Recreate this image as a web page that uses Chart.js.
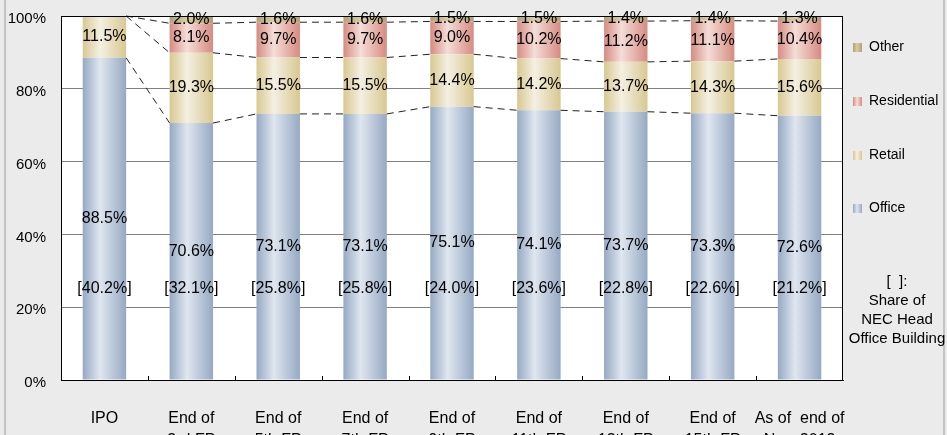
<!DOCTYPE html>
<html>
<head>
<meta charset="utf-8">
<script src="https://cdn.jsdelivr.net/npm/chart.js@4/dist/chart.umd.min.js"></script>
<style>
  html, body { margin: 0; padding: 0; background: #ebebeb; }
  #wrap { width: 947px; height: 435px; position: relative; }
</style>
</head>
<body>
<div id="wrap"><canvas id="mixChart" width="947" height="435"></canvas></div>
<script>
// ---- portfolio mix by use (% of total) ----
const categories = [
    ["IPO"],
    ["End of", "3rd FP"],
    ["End of", "5th FP"],
    ["End of", "7th FP"],
    ["End of", "9th FP"],
    ["End of", "11th FP"],
    ["End of", "13th FP"],
    ["End of", "15th FP"],
    ["As of  end of", "Nov. 2013"]
];
const officeShare      = [88.5, 70.6, 73.1, 73.1, 75.1, 74.1, 73.7, 73.3, 72.6];
const retailShare      = [11.5, 19.3, 15.5, 15.5, 14.4, 14.2, 13.7, 14.3, 15.6];
const residentialShare = [0,     8.1,  9.7,  9.7,  9.0, 10.2, 11.2, 11.1, 10.4];
const otherShare       = [0,     2.0,  1.6,  1.6,  1.5,  1.5,  1.4,  1.4,  1.3];
// share of NEC Head Office Building, shown in brackets
const necHeadShare     = [40.2, 32.1, 25.8, 25.8, 24.0, 23.6, 22.8, 22.6, 21.2];
const necHeadLabelAt = 25;   // y value where the bracket labels sit
const yTicks = [0, 20, 40, 60, 80, 100];

const FONT = "'Liberation Sans', Arial, sans-serif";
const BAR_PCT = 0.5;

// edge / highlight colours for the cylinder-like fill
const palette = {
    office:      ["#96a9c3", "#dfe6ef"],
    retail:      ["#d8c890", "#f4efe2"],
    residential: ["#d68b80", "#f4ddd8"],
    other:       ["#b2a170", "#d8cda6"]
};

function barFill(colors) {
    return (ctx) => {
        const chart = ctx.chart;
        const xs = chart.scales && chart.scales.x;
        if (!chart.chartArea || !xs || ctx.type !== "data") return colors[0];
        const cx = xs.getPixelForValue(ctx.dataIndex);
        const w = xs.width / categories.length * BAR_PCT;
        const g = chart.ctx.createLinearGradient(cx - w / 2, 0, cx + w / 2, 0);
        g.addColorStop(0, colors[0]);
        g.addColorStop(0.4, colors[1]);
        g.addColorStop(1, colors[0]);
        return g;
    };
}

// ---- background + white plot area + frame ----
const framePlugin = {
    id: "frame",
    beforeDraw(chart) {
        const { ctx, chartArea: a, width, height } = chart;
        ctx.save();
        ctx.fillStyle = "#ebebeb";
        ctx.fillRect(0, 0, width, height);
        ctx.fillStyle = "#ffffff";
        ctx.fillRect(a.left, a.top, a.right - a.left, a.bottom - a.top);
        // outer side borders
        ctx.fillStyle = "#c4c4c4";
        ctx.fillRect(4, 0, 2, height);
        ctx.fillRect(943, 0, 2, height);
        ctx.restore();
    },
    afterDraw(chart) {
        const { ctx, chartArea: a } = chart;
        const xs = chart.scales.x;
        ctx.save();
        ctx.strokeStyle = "#000";
        ctx.lineWidth = 1;
        ctx.strokeRect(Math.round(a.left) + 0.5, Math.round(a.top) + 0.5,
                       Math.round(a.right - a.left) - 1, Math.round(a.bottom - a.top));
        // small inward ticks between categories
        ctx.beginPath();
        for (let i = 1; i < categories.length; i++) {
            const x = Math.round(xs.getPixelForValue(i - 0.5)) + 0.5;
            ctx.moveTo(x, a.bottom);
            ctx.lineTo(x, a.bottom - 4);
        }
        ctx.stroke();
        ctx.restore();
    }
};

// ---- dashed series lines joining segment tops ----
const seriesLinesPlugin = {
    id: "seriesLines",
    afterDatasetsDraw(chart) {
        const { ctx } = chart;
        ctx.save();
        ctx.strokeStyle = "#222";
        ctx.lineWidth = 1;
        ctx.setLineDash([7, 5]);
        for (let d = 0; d < 3; d++) {
            const bars = chart.getDatasetMeta(d).data;
            for (let i = 0; i < bars.length - 1; i++) {
                const a = bars[i], b = bars[i + 1];
                ctx.beginPath();
                ctx.moveTo(a.x + a.width / 2, a.y);
                ctx.lineTo(b.x - b.width / 2, b.y);
                ctx.stroke();
            }
        }
        ctx.restore();
    }
};

// ---- value labels inside segments + bracketed NEC share ----
const valueLabelPlugin = {
    id: "valueLabels",
    afterDatasetsDraw(chart) {
        const { ctx } = chart;
        ctx.save();
        ctx.fillStyle = "#000";
        ctx.font = "16px " + FONT;
        ctx.textAlign = "center";
        ctx.textBaseline = "middle";
        chart.data.datasets.forEach((ds, d) => {
            chart.getDatasetMeta(d).data.forEach((bar, i) => {
                const v = ds.data[i];
                if (!v) return;
                ctx.fillText(v.toFixed(1) + "%", bar.x, (bar.y + bar.base) / 2);
            });
        });
        const ys = chart.scales.y;
        const yPix = ys.getPixelForValue(necHeadLabelAt);
        chart.getDatasetMeta(0).data.forEach((bar, i) => {
            ctx.fillText("[" + necHeadShare[i].toFixed(1) + "%]", bar.x, yPix);
        });
        ctx.restore();
    }
};

// ---- legend and bracket note on the right ----
const sideLegendPlugin = {
    id: "sideLegend",
    afterDraw(chart) {
        const { ctx } = chart;
        const items = [
            ["Other", palette.other, 47],
            ["Residential", palette.residential, 101],
            ["Retail", palette.retail, 155],
            ["Office", palette.office, 208]
        ];
        ctx.save();
        ctx.font = "14px " + FONT;
        ctx.textBaseline = "middle";
        ctx.textAlign = "left";
        items.forEach(([name, colors, y]) => {
            const g = ctx.createLinearGradient(853, 0, 862, 0);
            g.addColorStop(0, colors[0]);
            g.addColorStop(0.45, colors[1]);
            g.addColorStop(1, colors[0]);
            ctx.fillStyle = g;
            ctx.fillRect(853, y - 4, 9, 9);
            ctx.fillStyle = "#000";
            ctx.fillText(name, 869, y);
        });
        ctx.font = "15px " + FONT;
        ctx.textAlign = "center";
        ["[  ]:", "Share of", "NEC Head", "Office Building"].forEach((line, k) => {
            ctx.fillText(line, 897, 282 + k * 19);
        });
        ctx.restore();
    }
};

function makeDataset(label, data, colors) {
    return {
        label: label,
        data: data,
        backgroundColor: barFill(colors),
        borderWidth: 0,
        barPercentage: BAR_PCT,
        categoryPercentage: 1
    };
}

new Chart(document.getElementById("mixChart"), {
    type: "bar",
    data: {
        labels: categories,
        datasets: [
            makeDataset("Office", officeShare, palette.office),
            makeDataset("Retail", retailShare, palette.retail),
            makeDataset("Residential", residentialShare, palette.residential),
            makeDataset("Other", otherShare, palette.other)
        ]
    },
    options: {
        responsive: false,
        animation: false,
        events: [],
        layout: { padding: { left: 0, right: 104, top: 16, bottom: 0 } },
        plugins: {
            legend: { display: false },
            tooltip: { enabled: false }
        },
        scales: {
            x: {
                stacked: true,
                grid: { display: false },
                border: { display: true, color: "#000", width: 1 },
                ticks: {
                    color: "#000",
                    font: { family: FONT, size: 16, lineHeight: 1.35 },
                    padding: 20,
                    maxRotation: 0,
                    autoSkip: false
                },
                afterFit(scale) { scale.height = 55; }
            },
            y: {
                stacked: true,
                min: 0,
                max: 100,
                afterBuildTicks(scale) {
                    scale.ticks = yTicks.map(v => ({ value: v }));
                },
                grid: { color: "#808080", lineWidth: 1, drawTicks: false },
                border: { display: true, color: "#000", width: 1 },
                ticks: {
                    color: "#000",
                    font: { family: FONT, size: 15 },
                    padding: 15,
                    labelOffset: 3,
                    callback: v => v + "%"
                },
                afterFit(scale) {
                    scale.width = 61;
                    scale.paddingTop = 0;
                    scale.paddingBottom = 0;
                }
            }
        }
    },
    plugins: [framePlugin, seriesLinesPlugin, valueLabelPlugin, sideLegendPlugin]
});
</script>
</body>
</html>
